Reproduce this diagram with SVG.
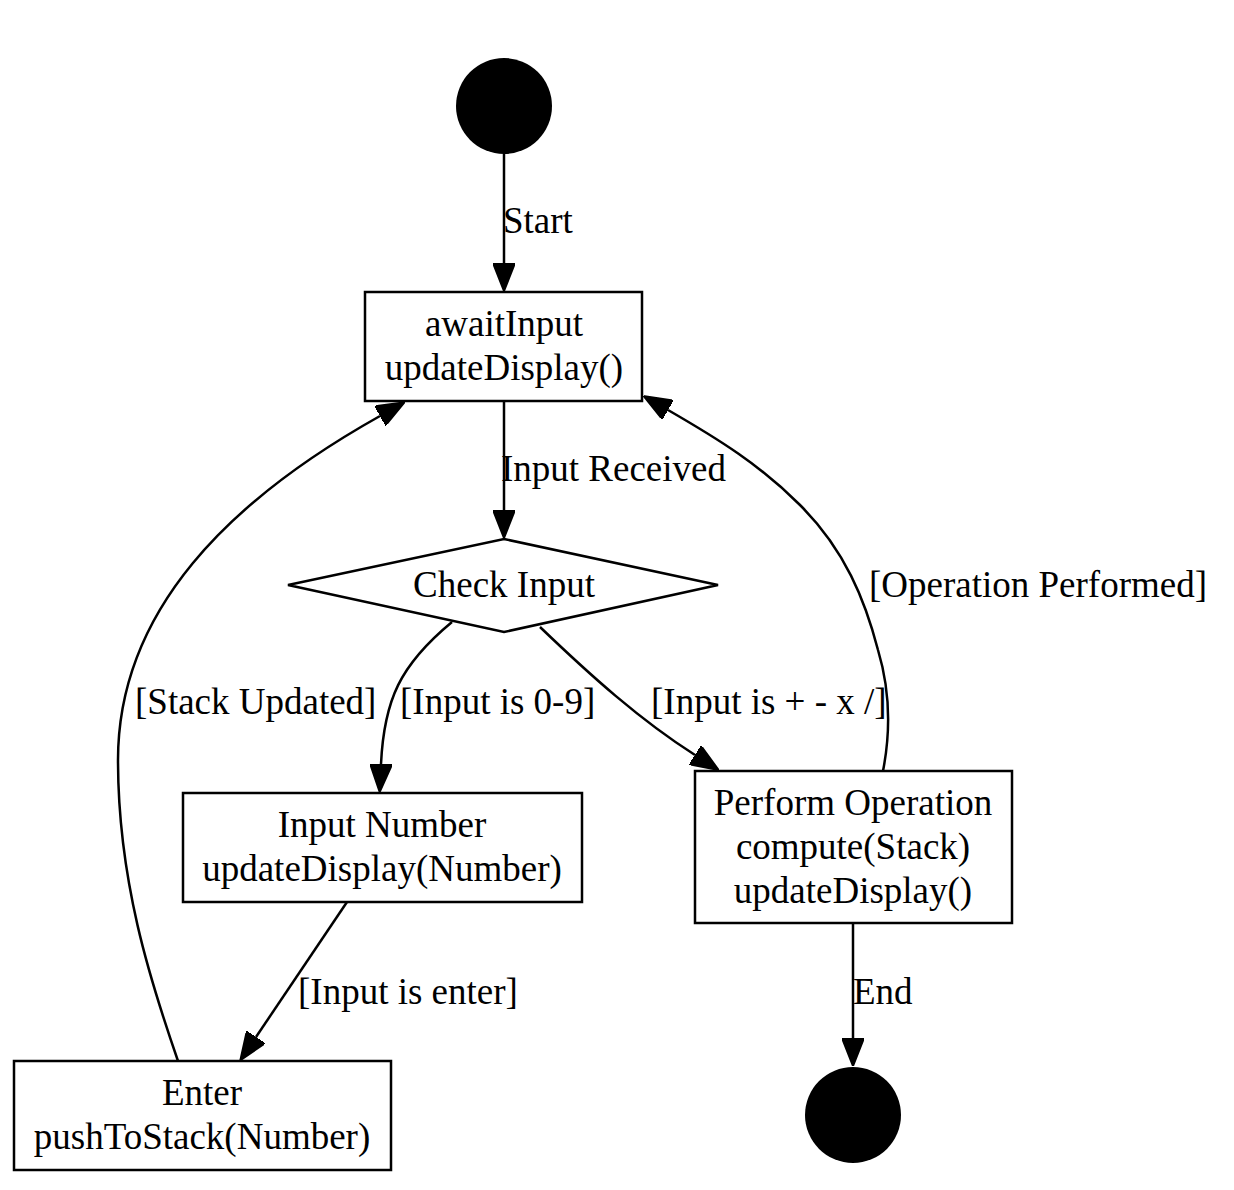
<svg xmlns="http://www.w3.org/2000/svg" width="1234" height="1190" viewBox="0 0 1234 1190">
<style>
text{font-family:"Liberation Serif","Times New Roman",serif;font-size:37px;fill:#000}
.c{text-anchor:middle}
.n{fill:#fff;stroke:#000;stroke-width:2.5}
.e{fill:none;stroke:#000;stroke-width:2.5;marker-end:url(#ah)}
</style>
<defs>
<marker id="ah" viewBox="0 0 28 22" refX="0" refY="11" markerWidth="28" markerHeight="22" markerUnits="userSpaceOnUse" orient="auto">
<path d="M0,0 L28,11 L0,22 z" fill="#000" stroke="#000" stroke-width="2"/>
</marker>
</defs>
<rect width="1234" height="1190" fill="#fff"/>
<g id="edges">
<path class="e" d="M504,154 L504,263"/>
<path class="e" d="M504,401 L504,510"/>
<path class="e" d="M452,622 C400,665 384,700 381,764"/>
<path class="e" d="M540,627 C590,675 640,720 695,755"/>
<path class="e" d="M347,902 L256,1037"/>
<path class="e" d="M178,1061 C150,980 118,880 118,760 C118,610 230,500 380,416"/>
<path class="e" d="M883,771 C891,730 890,690 878,650 C865,600 845,550 800,505 C760,465 720,440 668,410"/>
<path class="e" d="M853,923 L853,1038"/>
<text x="503" y="233">Start</text>
<text x="501" y="481">Input Received</text>
<text x="135" y="714">[Stack Updated]</text>
<text x="400" y="714">[Input is 0-9]</text>
<text x="651" y="714">[Input is + - x /]</text>
<text x="869" y="597">[Operation Performed]</text>
<text x="298" y="1004">[Input is enter]</text>
<text x="853" y="1004">End</text>
</g>
<g id="start"><circle cx="504" cy="106" r="48" fill="#000"/></g>
<g id="awaitInput">
<rect class="n" x="365" y="292" width="277" height="109"/>
<text class="c" x="504" y="336">awaitInput</text>
<text class="c" x="504" y="380">updateDisplay()</text>
</g>
<g id="checkInput">
<polygon class="n" points="504,539 718,585 504,632 288,585"/>
<text class="c" x="504" y="597">Check Input</text>
</g>
<g id="inputNumber">
<rect class="n" x="183" y="793" width="399" height="109"/>
<text class="c" x="382" y="837">Input Number</text>
<text class="c" x="382" y="881">updateDisplay(Number)</text>
</g>
<g id="performOperation">
<rect class="n" x="695" y="771" width="317" height="152"/>
<text class="c" x="853" y="815">Perform Operation</text>
<text class="c" x="853" y="859">compute(Stack)</text>
<text class="c" x="853" y="903">updateDisplay()</text>
</g>
<g id="enter">
<rect class="n" x="14" y="1061" width="377" height="109"/>
<text class="c" x="202" y="1105">Enter</text>
<text class="c" x="202" y="1149">pushToStack(Number)</text>
</g>
<g id="end"><circle cx="853" cy="1115" r="48" fill="#000"/></g>
</svg>
